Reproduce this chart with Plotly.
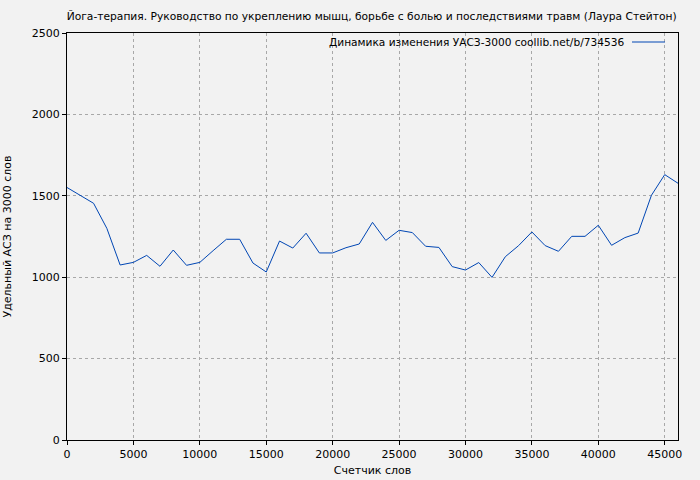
import plotly.graph_objects as go

words = [0, 1000, 2000, 3000, 4000, 5000, 6000, 7000, 8000, 9000,
         10000, 11000, 12000, 13000, 14000, 15000, 16000, 17000, 18000, 19000,
         20000, 21000, 22000, 23000, 24000, 25000, 26000, 27000, 28000, 29000,
         30000, 31000, 32000, 33000, 34000, 35000, 36000, 37000, 38000, 39000,
         40000, 41000, 42000, 43000, 44000, 45000, 46000]
values = [1551, 1503, 1454, 1300, 1075, 1091, 1134, 1067, 1167, 1073,
          1091, 1163, 1233, 1233, 1087, 1032, 1222, 1179, 1270, 1149,
          1149, 1181, 1204, 1337, 1226, 1288, 1274, 1190, 1183, 1065,
          1044, 1090, 999, 1126, 1194, 1278, 1194, 1159, 1251, 1251,
          1319, 1196, 1243, 1271, 1503, 1630, 1577]

title = "Йога-терапия. Руководство по укреплению мышц, борьбе с болью и последствиями травм (Лаура Стейтон)"
legend_label = "Динамика изменения УАСЗ-3000 coollib.net/b/734536"
x_title = "Счетчик слов"
y_title = "Удельный АСЗ на 3000 слов"
line_color = "#0046b4"

fig = go.Figure()
fig.add_trace(go.Scatter(x=words, y=values, mode="lines",
                         line=dict(color=line_color, width=1),
                         name=legend_label, showlegend=False))

font = "DejaVu Sans"
fig.update_layout(
    width=700, height=480,
    margin=dict(l=67, r=22, t=33, b=40, autoexpand=False),
    paper_bgcolor="#f2f2f2", plot_bgcolor="#f2f2f2",
    font=dict(family=font, size=11, color="#000000"),
    title=dict(text=title, x=0.531, xanchor="center", y=0.967, yanchor="middle",
               font=dict(family=font, size=10.7)),
    xaxis=dict(range=[0, 46000], tickmode="linear", tick0=0, dtick=5000,
               tickformat="d", automargin=False,
               showline=True, linecolor="#000000", linewidth=1, mirror=True,
               ticks="outside", ticklen=4, tickcolor="#000000",
               showgrid=True, gridcolor="#a8a8a8", griddash="dot", gridwidth=1,
               zeroline=False,
               title=dict(text=x_title, standoff=6, font=dict(size=11)),
               tickfont=dict(size=11)),
    yaxis=dict(range=[0, 2500], tickmode="linear", tick0=0, dtick=500,
               tickformat="d", automargin=False,
               showline=True, linecolor="#000000", linewidth=1, mirror=True,
               ticks="outside", ticklen=4, tickcolor="#000000",
               showgrid=True, gridcolor="#a8a8a8", griddash="dot", gridwidth=1,
               zeroline=False,
               title=dict(text=y_title, standoff=17, font=dict(size=11)),
               tickfont=dict(size=11)),
)

fig.add_annotation(text=legend_label, xref="paper", yref="paper",
                   x=(626 - 67) / 611, y=1 - (42 - 33) / 407,
                   xanchor="right", yanchor="middle", showarrow=False,
                   font=dict(family=font, size=10.6, color="#000000"))
fig.add_shape(type="line", xref="paper", yref="paper",
              x0=(632 - 67) / 611, x1=(665 - 67) / 611,
              y0=1 - (42 - 33) / 407, y1=1 - (42 - 33) / 407,
              line=dict(color=line_color, width=1))

fig.write_html("out.html", config={"displayModeBar": False},
               post_script="document.body.style.margin='0';")
